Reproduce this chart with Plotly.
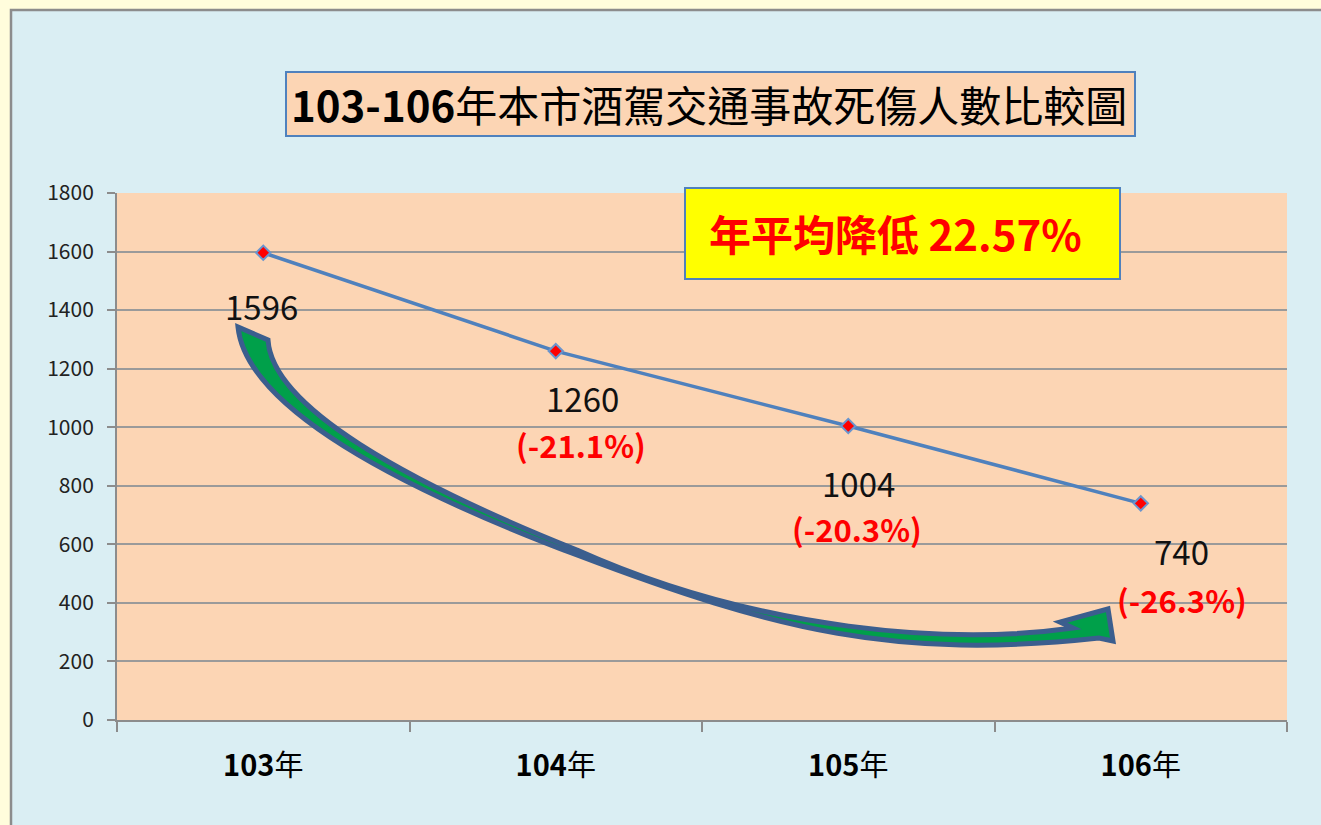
import plotly.graph_objects as go

# ---------------- data ----------------
years = ["103年", "104年", "105年", "106年"]
casualties = [1596, 1260, 1004, 740]
changes = ["", "(-21.1%)", "(-20.3%)", "(-26.3%)"]
y_ticks = [0, 200, 400, 600, 800, 1000, 1200, 1400, 1600, 1800]
title_bold = "103-106"
title_rest = "年本市酒駕交通事故死傷人數比較圖"
avg_text = "年平均降低 22.57%"

# ---------------- layout geometry ----------------
W, H = 1321, 825
PL, PR, PT, PB = 117, 1287, 193, 720
FONT = "Noto Sans CJK TC, Noto Sans, sans-serif"


def fx(px):
    return (px - PL) / (PR - PL)


def fy(py):
    return (PB - py) / (PB - PT)


def pt(px, py):
    return f"{fx(px):.5f},{fy(py):.5f}"


fig = go.Figure()
fig.add_trace(go.Scatter(
    x=years, y=casualties, mode="lines+markers",
    line=dict(color="#4F81BD", width=3.5),
    marker=dict(symbol="diamond", size=11, color="#FF0000",
                line=dict(color="#6A95CE", width=2)),
    hoverinfo="x+y", showlegend=False,
))

shapes = []
# light-blue panel with grey border
shapes.append(dict(type="rect", xref="paper", yref="paper", layer="below",
                   x0=fx(11), x1=fx(1340), y0=fy(845), y1=fy(10),
                   fillcolor="#DAEEF3", line=dict(color="#8C8C8C", width=2.5)))
# peach plot area
shapes.append(dict(type="rect", xref="paper", yref="paper", layer="below",
                   x0=0, x1=1, y0=0, y1=1, fillcolor="#FCD5B4", line=dict(width=0)))
# title box
shapes.append(dict(type="rect", xref="paper", yref="paper", layer="above",
                   x0=fx(286), x1=fx(1135), y0=fy(136), y1=fy(72),
                   fillcolor="#FCD5B4", line=dict(color="#4F81BD", width=2)))
# yellow box
shapes.append(dict(type="rect", xref="paper", yref="paper", layer="above",
                   x0=fx(685), x1=fx(1120), y0=fy(279), y1=fy(188),
                   fillcolor="#FFFF00", line=dict(color="#4F81BD", width=2)))

# curved arrow (decoration)
arrow = (
    "M " + pt(238, 327)
    + " C " + pt(246, 407) + " " + pt(397, 487) + " " + pt(577, 555)
    + " C " + pt(777, 631) + " " + pt(898, 660) + " " + pt(1099, 638)
    + " L " + pt(1113, 641)
    + " L " + pt(1108, 609)
    + " L " + pt(1060, 622)
    + " L " + pt(1073, 628)
    + " C " + pt(953, 645) + " " + pt(760, 632) + " " + pt(577, 550)
    + " C " + pt(407, 482) + " " + pt(272, 407) + " " + pt(268, 340)
    + " Z"
)
shapes.append(dict(type="path", xref="paper", yref="paper", layer="above",
                   path=arrow, fillcolor="#00A04A",
                   line=dict(color="#3B5E8E", width=5)))

annotations = []
annotations.append(dict(
    xref="paper", yref="paper", x=fx(709), y=fy(104), showarrow=False,
    text=f"<b>{title_bold}</b>{title_rest}",
    font=dict(family=FONT, size=42, color="#000000"),
    xanchor="center", yanchor="middle"))
annotations.append(dict(
    xref="paper", yref="paper", x=fx(895), y=fy(232), showarrow=False,
    text=f"<b>{avg_text}</b>",
    font=dict(family=FONT, size=42, color="#FF0000"),
    xanchor="center", yanchor="middle"))

# value labels and change labels
val_shift = [(-2, -53), (27, -47), (10, -57), (41, -48)]
pct_shift = [(0, 0), (25, -93), (9, -102), (41, -96)]
for i, (yr, v) in enumerate(zip(years, casualties)):
    annotations.append(dict(
        x=yr, y=v, xref="x", yref="y", showarrow=False, text=str(v),
        xshift=val_shift[i][0], yshift=val_shift[i][1],
        font=dict(family=FONT, size=33, color="#111111")))
    if changes[i]:
        annotations.append(dict(
            x=yr, y=v, xref="x", yref="y", showarrow=False,
            text=f"<b>{changes[i]}</b>",
            xshift=pct_shift[i][0], yshift=pct_shift[i][1],
            font=dict(family=FONT, size=31, color="#FF0000")))

fig.update_layout(
    width=W, height=H, autosize=False,
    margin=dict(l=PL, r=W - PR, t=PT, b=H - PB, pad=0),
    paper_bgcolor="#FFFDDC", plot_bgcolor="rgba(0,0,0,0)",
    shapes=shapes, annotations=annotations,
    font=dict(family=FONT),
)
fig.update_xaxes(
    type="category", categoryorder="array", categoryarray=years,
    range=[-0.5, len(years) - 0.5],
    tickvals=years, ticktext=[f"<b>{y[:-1]}</b>{y[-1]}" for y in years],
    tickson="boundaries", ticks="outside", ticklen=10, tickwidth=1.5,
    tickcolor="#8C8C8C", showline=True, linecolor="#8C8C8C", linewidth=2,
    showgrid=False, ticklabelstandoff=19,
    tickfont=dict(family=FONT, size=29, color="#000000"),
)
fig.update_yaxes(
    range=[0, 1800], tickvals=y_ticks, ticks="outside", ticklen=8,
    tickwidth=1.5, tickcolor="#8C8C8C", showline=True, linecolor="#8C8C8C",
    linewidth=2, showgrid=True, gridcolor="#9A9A9A", gridwidth=1.5,
    zeroline=False, ticklabelstandoff=9,
    tickfont=dict(family=FONT, size=21, color="#222222"),
)

fig.write_html("out.html", config={"displayModeBar": False},
               post_script="document.body.style.margin='0';")
